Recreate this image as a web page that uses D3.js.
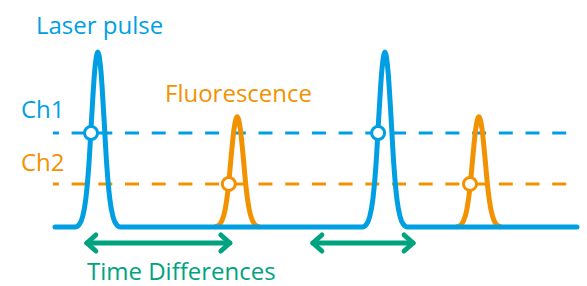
<!DOCTYPE html>
<html>
<head>
<meta charset="utf-8">
<script src="https://cdn.jsdelivr.net/npm/d3@7"></script>
<style>
  body { margin: 0; background: #fff; }
  text { font-family: "Open Sans", sans-serif; font-size: 24px; }
</style>
</head>
<body>
<script>
const WIDTH = 587;
const HEIGHT = 286;

const BLUE = "#009fe3";
const ORANGE = "#f39200";
const GREEN = "#00a37f";

// time axis in ns (0..100), signal in relative units (0..1)
const laserPeaks = [8.2, 63.2];
const fluoPeaks = [34.9, 81.2];
const laserHeight = 1;
const fluoHeight = 0.63;
// pulse shape: offset from peak centre -> relative height
const pulseOffsets = [0, 0.6, 1.15, 1.7, 2.3, 2.9, 3.5, 4.3];
const pulseValues = [1, 0.89, 0.64, 0.36, 0.16, 0.06, 0.017, 0];
const ch1Level = 0.537;
const ch2Level = 0.246;
const ch1Hits = [6.9, 61.9];
const ch2Hits = [33.3, 79.5];
const arrows = [[6.1, 33.5], [49.4, 68.6]];
const labels = ["Laser pulse", "Ch1", "Fluorescence", "Ch2", "Time Differences"];

function pulsePoints(center, height){
    let left = pulseOffsets.slice().reverse().map((o,i) => [center - o, pulseValues[pulseValues.length-1-i]*height]);
    let right = pulseOffsets.slice(1).map((o,i) => [center + o, pulseValues[i+1]*height]);
    return left.concat(right);
}

function setup(){
    let svg = d3.select("body")
        .append("svg")
        .attr("width",WIDTH)
        .attr("height",HEIGHT);

    let x = d3.scaleLinear().domain([0,100]).range([55,577]);
    let y = d3.scaleLinear().domain([0,1]).range([227,52]);
    let line = d3.line()
        .x(d => x(d[0]))
        .y(d => y(d[1]))
        .curve(d3.curveMonotoneX);

    // threshold lines
    svg.append("line")
        .attr("x1",x(-0.4)).attr("x2",x(100))
        .attr("y1",y(ch1Level)).attr("y2",y(ch1Level))
        .style("stroke",BLUE).style("stroke-width",3)
        .style("stroke-dasharray","14 12.7").style("stroke-dashoffset",8);
    svg.append("line")
        .attr("x1",x(-0.4)).attr("x2",x(100))
        .attr("y1",y(ch2Level)).attr("y2",y(ch2Level))
        .style("stroke",ORANGE).style("stroke-width",3)
        .style("stroke-dasharray","14 12.7").style("stroke-dashoffset",8);

    // fluorescence pulses
    svg.selectAll(".fluo")
        .data(fluoPeaks)
        .enter()
        .append("path")
        .attr("class","fluo")
        .attr("d",d => line(pulsePoints(d,fluoHeight)))
        .style("fill","none")
        .style("stroke",ORANGE)
        .style("stroke-width",5)
        .style("stroke-linejoin","round");

    // laser trace with baseline
    let trace = [[0,0]];
    laserPeaks.forEach(p => { trace = trace.concat(pulsePoints(p,laserHeight)); });
    trace.push([100,0]);
    svg.append("path")
        .attr("d",line(trace))
        .style("fill","none")
        .style("stroke",BLUE)
        .style("stroke-width",5)
        .style("stroke-linecap","round")
        .style("stroke-linejoin","round");

    // crossing markers
    let hits = ch1Hits.map(t => ({t:t, v:ch1Level, c:BLUE}))
        .concat(ch2Hits.map(t => ({t:t, v:ch2Level, c:ORANGE})));
    svg.selectAll(".hit")
        .data(hits)
        .enter()
        .append("circle")
        .attr("class","hit")
        .attr("cx",d => x(d.t))
        .attr("cy",d => y(d.v))
        .attr("r",6.5)
        .style("fill","white")
        .style("stroke",d => d.c)
        .style("stroke-width",3);

    // time difference arrows
    let ay = 243;
    let arr = svg.selectAll(".arrow")
        .data(arrows)
        .enter()
        .append("g")
        .attr("class","arrow")
        .style("stroke",GREEN)
        .style("stroke-width",5)
        .style("stroke-linecap","round")
        .style("stroke-linejoin","round")
        .style("fill","none");
    arr.append("path")
        .attr("d",d => `M${x(d[0])},${ay}H${x(d[1])}`);
    arr.append("path")
        .attr("d",d => `M${x(d[0])+9},${ay-8}L${x(d[0])},${ay}L${x(d[0])+9},${ay+8}`);
    arr.append("path")
        .attr("d",d => `M${x(d[1])-9},${ay-8}L${x(d[1])},${ay}L${x(d[1])-9},${ay+8}`);

    // labels
    svg.append("text").attr("x",36).attr("y",34).style("fill",BLUE).text(labels[0]);
    svg.append("text").attr("x",21).attr("y",118).style("fill",BLUE).text(labels[1]);
    svg.append("text").attr("x",165).attr("y",102).style("fill",ORANGE).text(labels[2]);
    svg.append("text").attr("x",21).attr("y",171).style("fill",ORANGE).text(labels[3]);
    svg.append("text").attr("x",87).attr("y",280).style("fill",GREEN).text(labels[4]);
}

window.addEventListener("load",setup);
</script>
</body>
</html>
